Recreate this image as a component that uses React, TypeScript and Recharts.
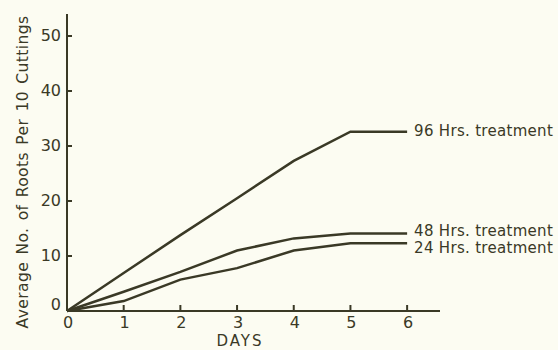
import React from 'react';
import { LineChart, Line, XAxis, YAxis } from 'recharts';

const days = [0, 1, 2, 3, 4, 5, 6];
const hrs96 = [0, 6.9, 13.8, 20.5, 27.3, 32.6, 32.6];
const hrs48 = [0, 3.5, 7.1, 11.0, 13.2, 14.1, 14.1];
const hrs24 = [0, 1.8, 5.7, 7.8, 11.0, 12.3, 12.3];
const seriesNames = ['96 Hrs. treatment', '48 Hrs. treatment', '24 Hrs. treatment'];
const yTicks = [0, 10, 20, 30, 40, 50];

const INK = '#3a3926';
const FONT = '"DejaVu Sans", Roboto, sans-serif';

const data = days.map((d, i) => ({ day: d, h96: hrs96[i], h48: hrs48[i], h24: hrs24[i] }));

const endLabel = (name: string, dy: number) => (props: any) => {
  const { x, y, index } = props;
  if (index !== days.length - 1) return null;
  return (
    <text x={x + 7} y={y + dy} fill={INK} fontSize={15} letterSpacing={0.3} fontFamily={FONT} dominantBaseline="middle">
      {name}
    </text>
  );
};

const YTick = (props: any) => {
  const { x, y, payload } = props;
  const shift = payload.value === 0 ? -6 : 0;
  return (
    <text x={x} y={y + shift} fill={INK} fontSize={16} fontFamily={FONT} textAnchor="end" dominantBaseline="middle">
      {payload.value}
    </text>
  );
};

const XTick = (props: any) => {
  const { x, y, payload } = props;
  return (
    <text x={x + 1} y={y} fill={INK} fontSize={16} fontFamily={FONT} textAnchor="middle" dominantBaseline="hanging">
      {payload.value}
    </text>
  );
};

export default function App() {
  return (
    <div style={{ position: 'absolute', left: 0, top: 0, width: 558, height: 350, background: '#fcfcf2', overflow: 'hidden' }}>
      <LineChart width={558} height={350} data={data} margin={{ top: 14, right: 118, left: 0, bottom: 0 }}>
        <XAxis
          dataKey="day"
          type="number"
          domain={[0, 6.58]}
          ticks={days}
          height={39}
          axisLine={{ stroke: INK, strokeWidth: 2 }}
          tickLine={{ stroke: INK, strokeWidth: 2 }}
          tickSize={-6}
          tickMargin={11}
          tick={<XTick />}
          label={{
            content: () => (
              <text x={240} y={346} fill={INK} fontSize={15} fontFamily={FONT} textAnchor="middle" letterSpacing={2}>
                DAYS
              </text>
            ),
          }}
        />
        <YAxis
          type="number"
          domain={[0, 54]}
          ticks={yTicks}
          width={67}
          axisLine={{ stroke: INK, strokeWidth: 2 }}
          tickLine={{ stroke: INK, strokeWidth: 2 }}
          tickSize={-5}
          tickMargin={11}
          tick={<YTick />}
          label={{
            content: () => (
              <text
                x={23}
                y={172}
                transform="rotate(-90 23 172)"
                fill={INK}
                fontSize={15.5}
                letterSpacing={0.4}
                wordSpacing={2}
                fontFamily={FONT}
                textAnchor="middle"
                dominantBaseline="middle"
              >
                Average No. of Roots Per 10 Cuttings
              </text>
            ),
          }}
        />
        <Line type="linear" dataKey="h96" stroke={INK} strokeWidth={2.5} dot={false} isAnimationActive={false} label={endLabel(seriesNames[0], 0)} />
        <Line type="linear" dataKey="h48" stroke={INK} strokeWidth={2.5} dot={false} isAnimationActive={false} label={endLabel(seriesNames[1], -2)} />
        <Line type="linear" dataKey="h24" stroke={INK} strokeWidth={2.5} dot={false} isAnimationActive={false} label={endLabel(seriesNames[2], 5)} />
      </LineChart>
    </div>
  );
}
